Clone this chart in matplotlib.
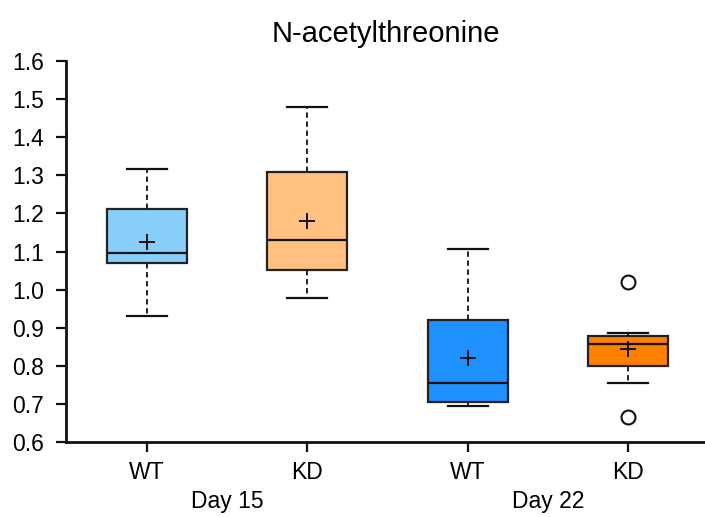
import matplotlib
matplotlib.use("Agg")
import matplotlib.pyplot as plt
from matplotlib.transforms import blended_transform_factory

plt.rcParams["font.family"] = ["Liberation Sans", "DejaVu Sans"]

# values
groups = ["WT", "KD", "WT", "KD"]
days = ["Day 15", "Day 22"]
whislo = [0.931, 0.979, 0.695, 0.756]
q1 = [1.069, 1.051, 0.706, 0.800]
med = [1.096, 1.129, 0.756, 0.858]
q3 = [1.211, 1.309, 0.921, 0.878]
whishi = [1.316, 1.480, 1.107, 0.886]
means = [1.124, 1.179, 0.820, 0.843]
fliers = [[], [], [], [1.021, 0.665]]
colors = ["#87CEFA", "#FFC080", "#1E90FF", "#FF8000"]

stats = []
for i in range(len(groups)):
    stats.append(dict(whislo=whislo[i], q1=q1[i], med=med[i], q3=q3[i],
                      whishi=whishi[i], mean=means[i], fliers=fliers[i]))

fig = plt.figure(figsize=(7.05, 5.17), dpi=100)
ax = fig.add_axes([0.0936, 0.145, 0.9064, 0.737])

positions = [1, 2, 3, 4]
bp = ax.bxp(stats, positions=positions, widths=0.5, patch_artist=True,
            showmeans=True, showfliers=True,
            boxprops=dict(edgecolor="#222222", linewidth=1.6),
            medianprops=dict(color="#111111", linewidth=1.6),
            whiskerprops=dict(color="#111111", linewidth=1.3, linestyle=(0, (3, 2))),
            capprops=dict(color="#111111", linewidth=1.6),
            capwidths=0.25,
            meanprops=dict(marker="+", markeredgecolor="#111111", markersize=11,
                           markeredgewidth=1.4),
            flierprops=dict(marker="o", markerfacecolor="white",
                            markeredgecolor="#111111", markersize=10,
                            markeredgewidth=1.5))
for patch, c in zip(bp["boxes"], colors):
    patch.set_facecolor(c)

ax.set_xlim(0.494, 4.48)
ax.set_ylim(0.6, 1.6)
ax.set_yticks([0.6 + 0.1 * k for k in range(11)])
ax.set_yticklabels([f"{0.6 + 0.1 * k:.1f}" for k in range(11)])
ax.set_xticks(positions)
ax.set_xticklabels(groups)
ax.tick_params(axis="both", labelsize=16.5, width=1.6, length=7, color="#111111")
ax.tick_params(axis="x", pad=7)
ax.tick_params(axis="y", pad=9)

for side in ["top", "right"]:
    ax.spines[side].set_visible(False)
for side in ["left", "bottom"]:
    ax.spines[side].set_linewidth(2)
    ax.spines[side].set_color("#111111")

trans = blended_transform_factory(ax.transData, ax.transAxes)
for j, d in enumerate(days):
    ax.text(positions[2 * j] + 0.5, -0.157, d, transform=trans,
            ha="center", va="center", fontsize=16.5)

ax.set_title("N-acetylthreonine", fontsize=21, pad=14)

fig.savefig("out.png", dpi=100)
